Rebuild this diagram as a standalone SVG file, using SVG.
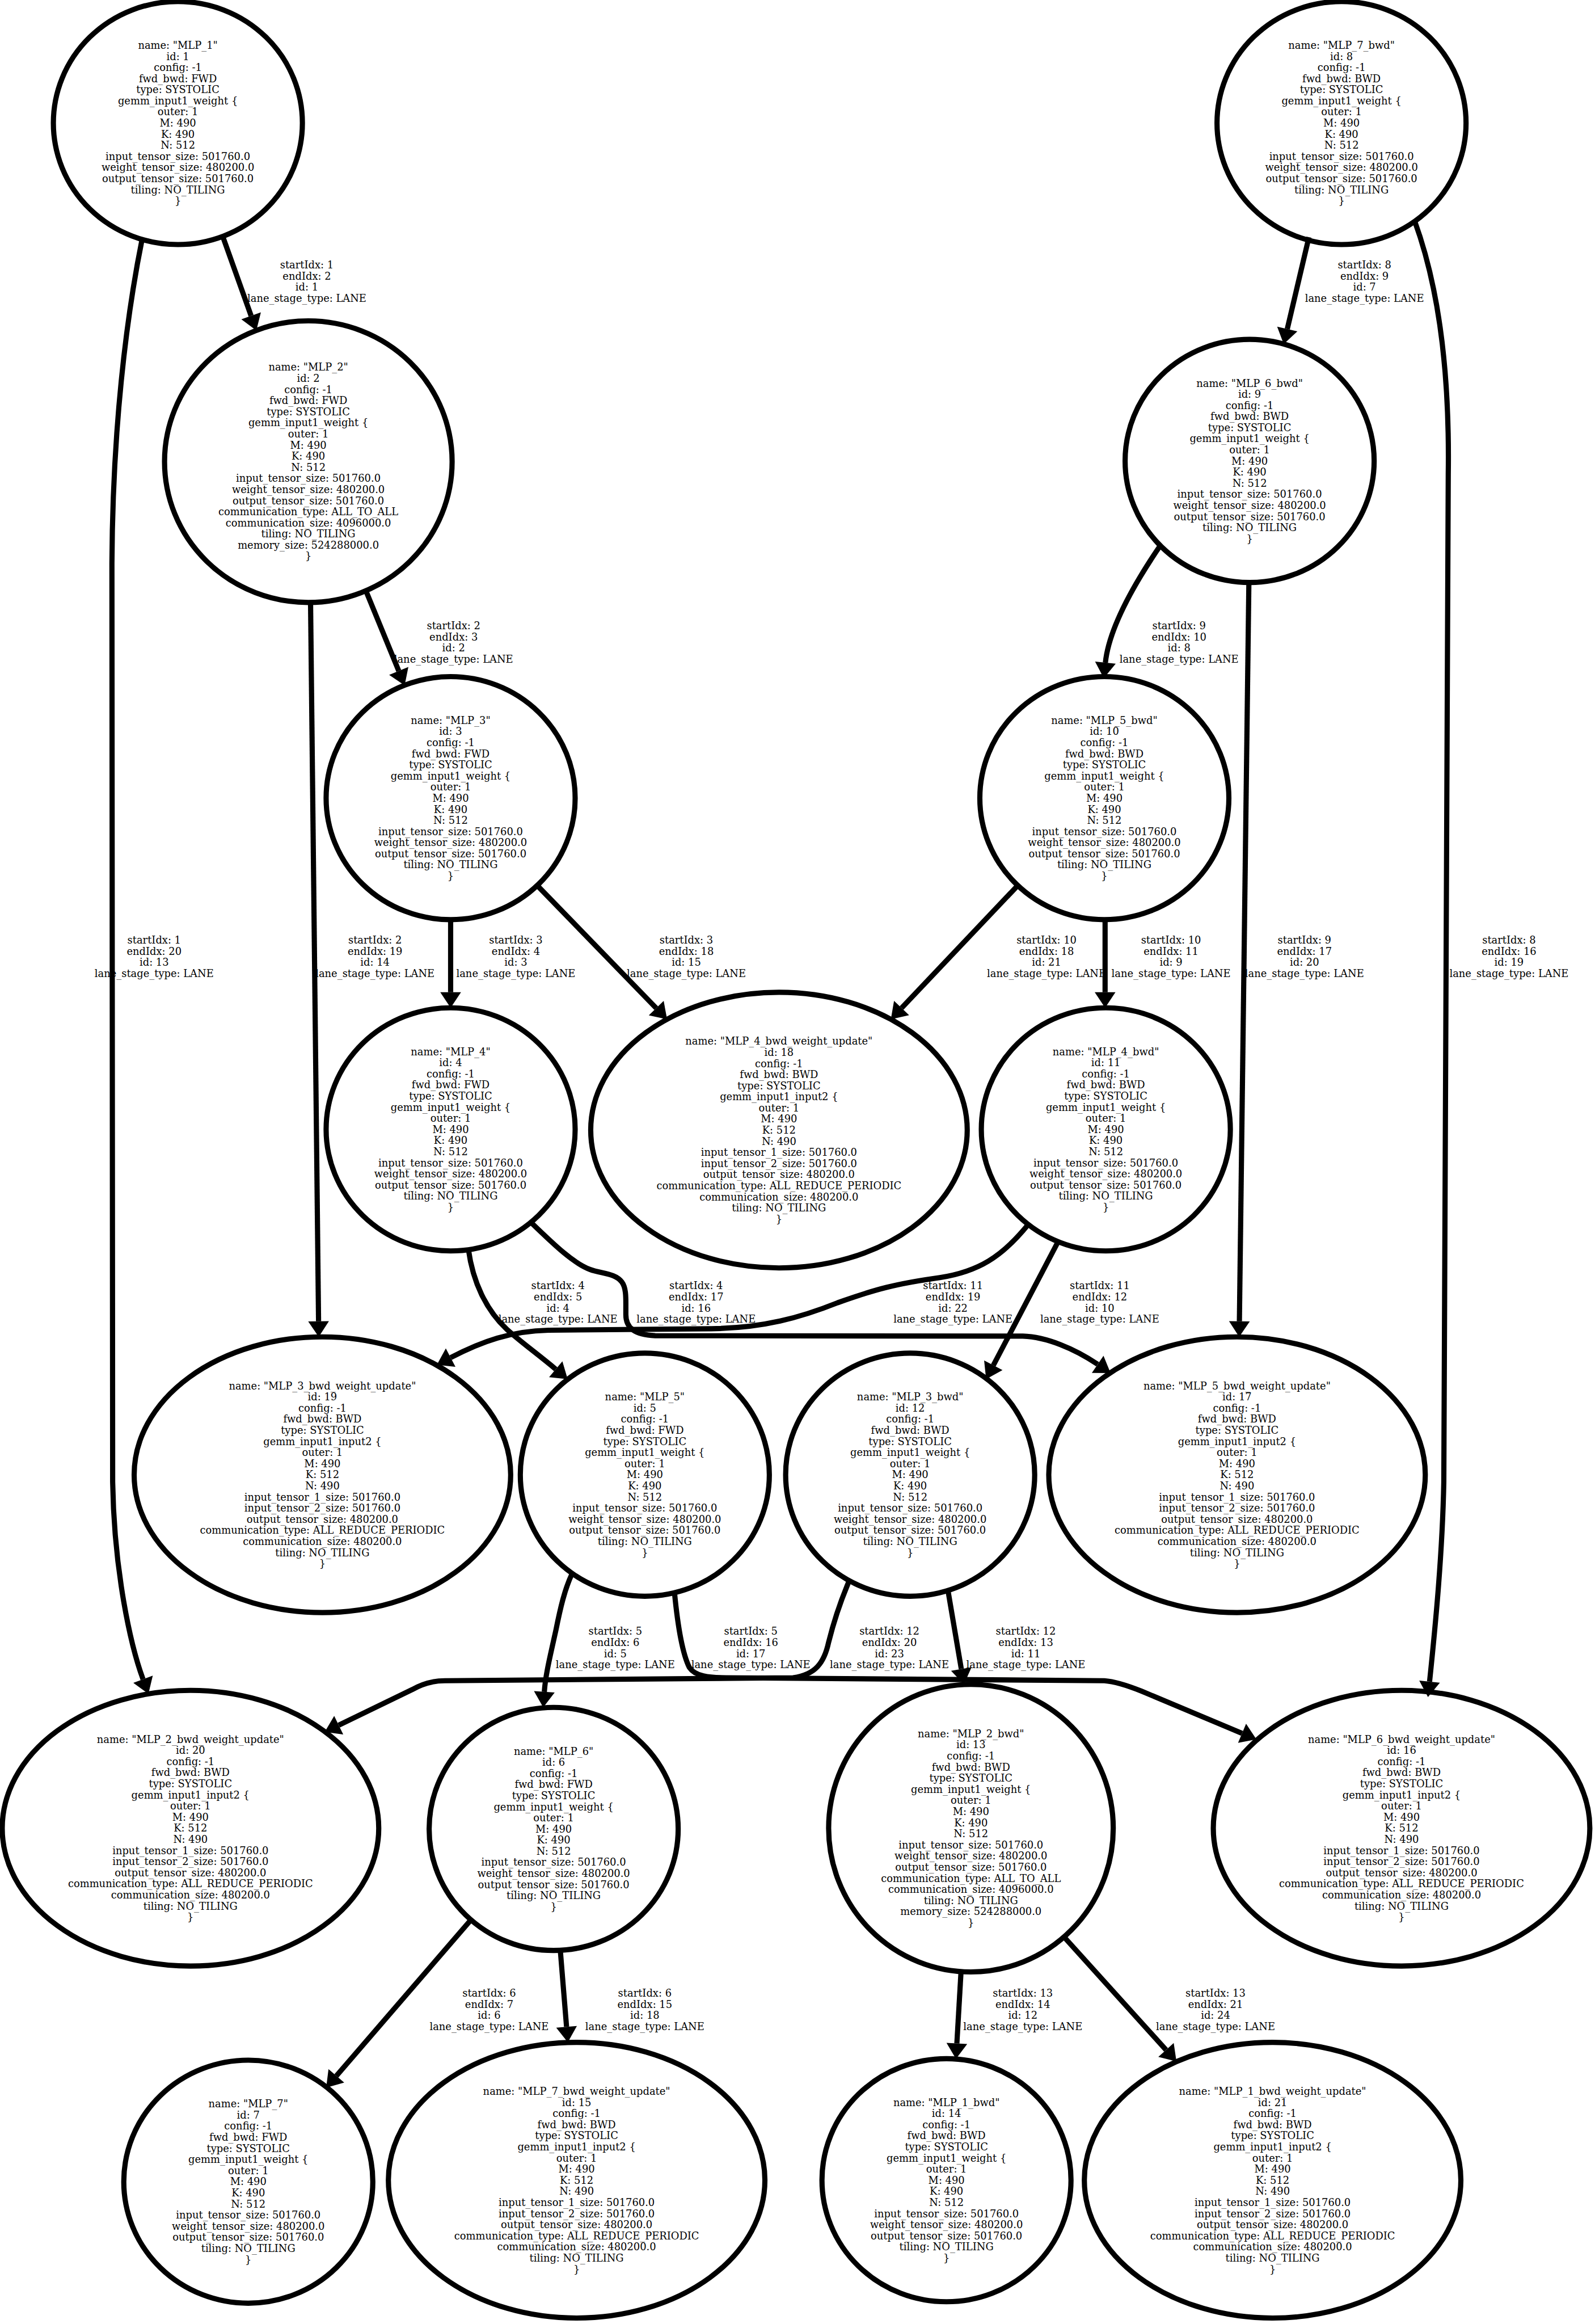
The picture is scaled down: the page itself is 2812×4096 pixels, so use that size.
<svg xmlns="http://www.w3.org/2000/svg" width="2812" height="4096" viewBox="0 0 2812 4096">
<style>
.node ellipse{fill:none;stroke:#000;stroke-width:3.5}
text{font-family:"DejaVu Serif","Liberation Serif",serif;font-size:6.85px;text-anchor:middle;fill:#000}
.edge path{fill:none;stroke:#000;stroke-width:3.5;marker-end:url(#ah)}
</style>
<defs>
<marker id="ah" markerUnits="userSpaceOnUse" viewBox="0 -7 10.5 14" refX="0" refY="0" markerWidth="10.5" markerHeight="14" orient="auto" overflow="visible"><path d="M0,-7 L10.5,0 L0,7 z" fill="#000"/></marker>
</defs>
<rect width="2812" height="4096" fill="#fff"/>
<g transform="scale(2.6134,2.6122)">
<g id="edges">
<g class="edge" id="e1"><path d="M150,158.8 L169.4,213.1"/><text x="207" y="181.15"><tspan x="207">startIdx: 1</tspan><tspan x="207" dy="7.5">endIdx: 2</tspan><tspan x="207" dy="7.5">id: 1</tspan><tspan x="207" dy="7.5">lane_stage_type: LANE</tspan></text></g>
<g class="edge" id="e13"><path d="M96,160.7 C85,215 76,290 75.5,380 L76,1000 C77,1060 88,1110 96.5,1133"/><text x="104" y="636.65"><tspan x="104">startIdx: 1</tspan><tspan x="104" dy="7.5">endIdx: 20</tspan><tspan x="104" dy="7.5">id: 13</tspan><tspan x="104" dy="7.5">lane_stage_type: LANE</tspan></text></g>
<g class="edge" id="e2"><path d="M247,399 L269,452.7"/><text x="306" y="424.65"><tspan x="306">startIdx: 2</tspan><tspan x="306" dy="7.5">endIdx: 3</tspan><tspan x="306" dy="7.5">id: 2</tspan><tspan x="306" dy="7.5">lane_stage_type: LANE</tspan></text></g>
<g class="edge" id="e14"><path d="M209.5,406.5 L214.9,891.5"/><text x="253" y="636.65"><tspan x="253">startIdx: 2</tspan><tspan x="253" dy="7.5">endIdx: 19</tspan><tspan x="253" dy="7.5">id: 14</tspan><tspan x="253" dy="7.5">lane_stage_type: LANE</tspan></text></g>
<g class="edge" id="e3"><path d="M304,620.5 L304,669.5"/><text x="348" y="636.65"><tspan x="348">startIdx: 3</tspan><tspan x="348" dy="7.5">endIdx: 4</tspan><tspan x="348" dy="7.5">id: 3</tspan><tspan x="348" dy="7.5">lane_stage_type: LANE</tspan></text></g>
<g class="edge" id="e15"><path d="M362,597 L442.7,680.2"/><text x="463" y="636.65"><tspan x="463">startIdx: 3</tspan><tspan x="463" dy="7.5">endIdx: 18</tspan><tspan x="463" dy="7.5">id: 15</tspan><tspan x="463" dy="7.5">lane_stage_type: LANE</tspan></text></g>
<g class="edge" id="e4"><path d="M316,843 C319,865 328,884 342,897 C352,906 362,913 374.9,923.8"/><text x="376.4" y="869.95"><tspan x="376.4">startIdx: 4</tspan><tspan x="376.4" dy="7.5">endIdx: 5</tspan><tspan x="376.4" dy="7.5">id: 4</tspan><tspan x="376.4" dy="7.5">lane_stage_type: LANE</tspan></text></g>
<g class="edge" id="e16"><path d="M357.8,824.4 C372,838 386,852 398,856.5 C406,859.5 415,859 419.5,865 C422.5,869 422.2,876 422.2,882 L422.2,887 C422.2,896 428,900.5 442,901.2 L690,901.5 C706,902 725,910 740.5,920.5"/><text x="469.6" y="869.95"><tspan x="469.6">startIdx: 4</tspan><tspan x="469.6" dy="7.5">endIdx: 17</tspan><tspan x="469.6" dy="7.5">id: 16</tspan><tspan x="469.6" dy="7.5">lane_stage_type: LANE</tspan></text></g>
<g class="edge" id="e5"><path d="M386,1061.6 C381,1072 378,1085 375,1100 C371,1118 368,1130 367.2,1141.5"/><text x="415.1" y="1103.05"><tspan x="415.1">startIdx: 5</tspan><tspan x="415.1" dy="7.5">endIdx: 6</tspan><tspan x="415.1" dy="7.5">id: 5</tspan><tspan x="415.1" dy="7.5">lane_stage_type: LANE</tspan></text></g>
<g class="edge" id="e17"><path d="M455,1074.4 C457,1095 460,1115 465,1125 C469,1131 478,1132 490,1132 L745,1134 C752,1134.5 760,1137 770,1141 L837.9,1169.5"/><text x="506.5" y="1103.05"><tspan x="506.5">startIdx: 5</tspan><tspan x="506.5" dy="7.5">endIdx: 16</tspan><tspan x="506.5" dy="7.5">id: 17</tspan><tspan x="506.5" dy="7.5">lane_stage_type: LANE</tspan></text></g>
<g class="edge" id="e6"><path d="M318,1295 L226.9,1400.6"/><text x="330" y="1347.15"><tspan x="330">startIdx: 6</tspan><tspan x="330" dy="7.5">endIdx: 7</tspan><tspan x="330" dy="7.5">id: 6</tspan><tspan x="330" dy="7.5">lane_stage_type: LANE</tspan></text></g>
<g class="edge" id="e18"><path d="M378,1316 L382.2,1367.5"/><text x="435" y="1347.15"><tspan x="435">startIdx: 6</tspan><tspan x="435" dy="7.5">endIdx: 15</tspan><tspan x="435" dy="7.5">id: 18</tspan><tspan x="435" dy="7.5">lane_stage_type: LANE</tspan></text></g>
<g class="edge" id="e7"><path d="M883,160 L868.4,222"/><text x="920.5" y="181.15"><tspan x="920.5">startIdx: 8</tspan><tspan x="920.5" dy="7.5">endIdx: 9</tspan><tspan x="920.5" dy="7.5">id: 7</tspan><tspan x="920.5" dy="7.5">lane_stage_type: LANE</tspan></text></g>
<g class="edge" id="e19"><path d="M954.3,149 C970,192 978,250 977,320 L974,1000 C973,1050 968,1100 964.4,1134.6"/><text x="1018" y="636.65"><tspan x="1018">startIdx: 8</tspan><tspan x="1018" dy="7.5">endIdx: 16</tspan><tspan x="1018" dy="7.5">id: 19</tspan><tspan x="1018" dy="7.5">lane_stage_type: LANE</tspan></text></g>
<g class="edge" id="e8"><path d="M783,367.7 C763,397 748,425 745.7,447.1"/><text x="795.4" y="424.65"><tspan x="795.4">startIdx: 9</tspan><tspan x="795.4" dy="7.5">endIdx: 10</tspan><tspan x="795.4" dy="7.5">id: 8</tspan><tspan x="795.4" dy="7.5">lane_stage_type: LANE</tspan></text></g>
<g class="edge" id="e20"><path d="M842.5,393 L836.1,891.5"/><text x="880" y="636.65"><tspan x="880">startIdx: 9</tspan><tspan x="880" dy="7.5">endIdx: 17</tspan><tspan x="880" dy="7.5">id: 20</tspan><tspan x="880" dy="7.5">lane_stage_type: LANE</tspan></text></g>
<g class="edge" id="e21"><path d="M687,597 L608.2,680.1"/><text x="706" y="636.65"><tspan x="706">startIdx: 10</tspan><tspan x="706" dy="7.5">endIdx: 18</tspan><tspan x="706" dy="7.5">id: 21</tspan><tspan x="706" dy="7.5">lane_stage_type: LANE</tspan></text></g>
<g class="edge" id="e9"><path d="M745.5,620.5 L745.5,669.5"/><text x="790" y="636.65"><tspan x="790">startIdx: 10</tspan><tspan x="790" dy="7.5">endIdx: 11</tspan><tspan x="790" dy="7.5">id: 9</tspan><tspan x="790" dy="7.5">lane_stage_type: LANE</tspan></text></g>
<g class="edge" id="e22"><path d="M693.8,826 C676,848 660,858 634,862 C605,866 590,870 565,879 C540,889 515,896 480,896.5 L370,897.5 C345,898 325,905 304,916"/><text x="642.9" y="869.95"><tspan x="642.9">startIdx: 11</tspan><tspan x="642.9" dy="7.5">endIdx: 19</tspan><tspan x="642.9" dy="7.5">id: 22</tspan><tspan x="642.9" dy="7.5">lane_stage_type: LANE</tspan></text></g>
<g class="edge" id="e10"><path d="M713.9,837.6 L670.1,921.2"/><text x="741.9" y="869.95"><tspan x="741.9">startIdx: 11</tspan><tspan x="741.9" dy="7.5">endIdx: 12</tspan><tspan x="741.9" dy="7.5">id: 10</tspan><tspan x="741.9" dy="7.5">lane_stage_type: LANE</tspan></text></g>
<g class="edge" id="e23"><path d="M573,1066.3 C568,1078 563,1092 559,1108 C556,1122 550,1130 535,1132 L300,1134 C292,1134 285,1136 278,1140 L228.5,1164"/><text x="600" y="1103.05"><tspan x="600">startIdx: 12</tspan><tspan x="600" dy="7.5">endIdx: 20</tspan><tspan x="600" dy="7.5">id: 23</tspan><tspan x="600" dy="7.5">lane_stage_type: LANE</tspan></text></g>
<g class="edge" id="e11"><path d="M639.5,1073 L648.5,1126.1"/><text x="692" y="1103.05"><tspan x="692">startIdx: 12</tspan><tspan x="692" dy="7.5">endIdx: 13</tspan><tspan x="692" dy="7.5">id: 11</tspan><tspan x="692" dy="7.5">lane_stage_type: LANE</tspan></text></g>
<g class="edge" id="e12"><path d="M648.3,1330.5 L645.5,1378.7"/><text x="690" y="1347.15"><tspan x="690">startIdx: 13</tspan><tspan x="690" dy="7.5">endIdx: 14</tspan><tspan x="690" dy="7.5">id: 12</tspan><tspan x="690" dy="7.5">lane_stage_type: LANE</tspan></text></g>
<g class="edge" id="e24"><path d="M717,1306 L786.6,1383.1"/><text x="820" y="1347.15"><tspan x="820">startIdx: 13</tspan><tspan x="820" dy="7.5">endIdx: 21</tspan><tspan x="820" dy="7.5">id: 24</tspan><tspan x="820" dy="7.5">lane_stage_type: LANE</tspan></text></g>
</g>
<g id="nodes">
<g class="node" id="MLP_1"><ellipse cx="120" cy="83" rx="84" ry="82"/><text x="120" y="32.9"><tspan x="120">name: "MLP_1"</tspan><tspan x="120" dy="7.5">id: 1</tspan><tspan x="120" dy="7.5">config: -1</tspan><tspan x="120" dy="7.5">fwd_bwd: FWD</tspan><tspan x="120" dy="7.5">type: SYSTOLIC</tspan><tspan x="120" dy="7.5">gemm_input1_weight {</tspan><tspan x="120" dy="7.5">outer: 1</tspan><tspan x="120" dy="7.5">M: 490</tspan><tspan x="120" dy="7.5">K: 490</tspan><tspan x="120" dy="7.5">N: 512</tspan><tspan x="120" dy="7.5">input_tensor_size: 501760.0</tspan><tspan x="120" dy="7.5">weight_tensor_size: 480200.0</tspan><tspan x="120" dy="7.5">output_tensor_size: 501760.0</tspan><tspan x="120" dy="7.5">tiling: NO_TILING</tspan><tspan x="120" dy="7.5">}</tspan></text></g>
<g class="node" id="MLP_7_bwd"><ellipse cx="905" cy="83" rx="84" ry="82"/><text x="905" y="32.9"><tspan x="905">name: "MLP_7_bwd"</tspan><tspan x="905" dy="7.5">id: 8</tspan><tspan x="905" dy="7.5">config: -1</tspan><tspan x="905" dy="7.5">fwd_bwd: BWD</tspan><tspan x="905" dy="7.5">type: SYSTOLIC</tspan><tspan x="905" dy="7.5">gemm_input1_weight {</tspan><tspan x="905" dy="7.5">outer: 1</tspan><tspan x="905" dy="7.5">M: 490</tspan><tspan x="905" dy="7.5">K: 490</tspan><tspan x="905" dy="7.5">N: 512</tspan><tspan x="905" dy="7.5">input_tensor_size: 501760.0</tspan><tspan x="905" dy="7.5">weight_tensor_size: 480200.0</tspan><tspan x="905" dy="7.5">output_tensor_size: 501760.0</tspan><tspan x="905" dy="7.5">tiling: NO_TILING</tspan><tspan x="905" dy="7.5">}</tspan></text></g>
<g class="node" id="MLP_2"><ellipse cx="208" cy="311.5" rx="97" ry="95"/><text x="208" y="250.15"><tspan x="208">name: "MLP_2"</tspan><tspan x="208" dy="7.5">id: 2</tspan><tspan x="208" dy="7.5">config: -1</tspan><tspan x="208" dy="7.5">fwd_bwd: FWD</tspan><tspan x="208" dy="7.5">type: SYSTOLIC</tspan><tspan x="208" dy="7.5">gemm_input1_weight {</tspan><tspan x="208" dy="7.5">outer: 1</tspan><tspan x="208" dy="7.5">M: 490</tspan><tspan x="208" dy="7.5">K: 490</tspan><tspan x="208" dy="7.5">N: 512</tspan><tspan x="208" dy="7.5">input_tensor_size: 501760.0</tspan><tspan x="208" dy="7.5">weight_tensor_size: 480200.0</tspan><tspan x="208" dy="7.5">output_tensor_size: 501760.0</tspan><tspan x="208" dy="7.5">communication_type: ALL_TO_ALL</tspan><tspan x="208" dy="7.5">communication_size: 4096000.0</tspan><tspan x="208" dy="7.5">tiling: NO_TILING</tspan><tspan x="208" dy="7.5">memory_size: 524288000.0</tspan><tspan x="208" dy="7.5">}</tspan></text></g>
<g class="node" id="MLP_6_bwd"><ellipse cx="843" cy="311" rx="84" ry="82"/><text x="843" y="260.9"><tspan x="843">name: "MLP_6_bwd"</tspan><tspan x="843" dy="7.5">id: 9</tspan><tspan x="843" dy="7.5">config: -1</tspan><tspan x="843" dy="7.5">fwd_bwd: BWD</tspan><tspan x="843" dy="7.5">type: SYSTOLIC</tspan><tspan x="843" dy="7.5">gemm_input1_weight {</tspan><tspan x="843" dy="7.5">outer: 1</tspan><tspan x="843" dy="7.5">M: 490</tspan><tspan x="843" dy="7.5">K: 490</tspan><tspan x="843" dy="7.5">N: 512</tspan><tspan x="843" dy="7.5">input_tensor_size: 501760.0</tspan><tspan x="843" dy="7.5">weight_tensor_size: 480200.0</tspan><tspan x="843" dy="7.5">output_tensor_size: 501760.0</tspan><tspan x="843" dy="7.5">tiling: NO_TILING</tspan><tspan x="843" dy="7.5">}</tspan></text></g>
<g class="node" id="MLP_3"><ellipse cx="304" cy="538.5" rx="84" ry="82"/><text x="304" y="488.4"><tspan x="304">name: "MLP_3"</tspan><tspan x="304" dy="7.5">id: 3</tspan><tspan x="304" dy="7.5">config: -1</tspan><tspan x="304" dy="7.5">fwd_bwd: FWD</tspan><tspan x="304" dy="7.5">type: SYSTOLIC</tspan><tspan x="304" dy="7.5">gemm_input1_weight {</tspan><tspan x="304" dy="7.5">outer: 1</tspan><tspan x="304" dy="7.5">M: 490</tspan><tspan x="304" dy="7.5">K: 490</tspan><tspan x="304" dy="7.5">N: 512</tspan><tspan x="304" dy="7.5">input_tensor_size: 501760.0</tspan><tspan x="304" dy="7.5">weight_tensor_size: 480200.0</tspan><tspan x="304" dy="7.5">output_tensor_size: 501760.0</tspan><tspan x="304" dy="7.5">tiling: NO_TILING</tspan><tspan x="304" dy="7.5">}</tspan></text></g>
<g class="node" id="MLP_5_bwd"><ellipse cx="745" cy="538.5" rx="84" ry="82"/><text x="745" y="488.4"><tspan x="745">name: "MLP_5_bwd"</tspan><tspan x="745" dy="7.5">id: 10</tspan><tspan x="745" dy="7.5">config: -1</tspan><tspan x="745" dy="7.5">fwd_bwd: BWD</tspan><tspan x="745" dy="7.5">type: SYSTOLIC</tspan><tspan x="745" dy="7.5">gemm_input1_weight {</tspan><tspan x="745" dy="7.5">outer: 1</tspan><tspan x="745" dy="7.5">M: 490</tspan><tspan x="745" dy="7.5">K: 490</tspan><tspan x="745" dy="7.5">N: 512</tspan><tspan x="745" dy="7.5">input_tensor_size: 501760.0</tspan><tspan x="745" dy="7.5">weight_tensor_size: 480200.0</tspan><tspan x="745" dy="7.5">output_tensor_size: 501760.0</tspan><tspan x="745" dy="7.5">tiling: NO_TILING</tspan><tspan x="745" dy="7.5">}</tspan></text></g>
<g class="node" id="MLP_4"><ellipse cx="304" cy="762" rx="84" ry="82"/><text x="304" y="711.9"><tspan x="304">name: "MLP_4"</tspan><tspan x="304" dy="7.5">id: 4</tspan><tspan x="304" dy="7.5">config: -1</tspan><tspan x="304" dy="7.5">fwd_bwd: FWD</tspan><tspan x="304" dy="7.5">type: SYSTOLIC</tspan><tspan x="304" dy="7.5">gemm_input1_weight {</tspan><tspan x="304" dy="7.5">outer: 1</tspan><tspan x="304" dy="7.5">M: 490</tspan><tspan x="304" dy="7.5">K: 490</tspan><tspan x="304" dy="7.5">N: 512</tspan><tspan x="304" dy="7.5">input_tensor_size: 501760.0</tspan><tspan x="304" dy="7.5">weight_tensor_size: 480200.0</tspan><tspan x="304" dy="7.5">output_tensor_size: 501760.0</tspan><tspan x="304" dy="7.5">tiling: NO_TILING</tspan><tspan x="304" dy="7.5">}</tspan></text></g>
<g class="node" id="MLP_4_bwd_weight_update"><ellipse cx="525.5" cy="762.5" rx="127" ry="93"/><text x="525.5" y="704.9"><tspan x="525.5">name: "MLP_4_bwd_weight_update"</tspan><tspan x="525.5" dy="7.5">id: 18</tspan><tspan x="525.5" dy="7.5">config: -1</tspan><tspan x="525.5" dy="7.5">fwd_bwd: BWD</tspan><tspan x="525.5" dy="7.5">type: SYSTOLIC</tspan><tspan x="525.5" dy="7.5">gemm_input1_input2 {</tspan><tspan x="525.5" dy="7.5">outer: 1</tspan><tspan x="525.5" dy="7.5">M: 490</tspan><tspan x="525.5" dy="7.5">K: 512</tspan><tspan x="525.5" dy="7.5">N: 490</tspan><tspan x="525.5" dy="7.5">input_tensor_1_size: 501760.0</tspan><tspan x="525.5" dy="7.5">input_tensor_2_size: 501760.0</tspan><tspan x="525.5" dy="7.5">output_tensor_size: 480200.0</tspan><tspan x="525.5" dy="7.5">communication_type: ALL_REDUCE_PERIODIC</tspan><tspan x="525.5" dy="7.5">communication_size: 480200.0</tspan><tspan x="525.5" dy="7.5">tiling: NO_TILING</tspan><tspan x="525.5" dy="7.5">}</tspan></text></g>
<g class="node" id="MLP_4_bwd"><ellipse cx="746" cy="762" rx="84" ry="82"/><text x="746" y="711.9"><tspan x="746">name: "MLP_4_bwd"</tspan><tspan x="746" dy="7.5">id: 11</tspan><tspan x="746" dy="7.5">config: -1</tspan><tspan x="746" dy="7.5">fwd_bwd: BWD</tspan><tspan x="746" dy="7.5">type: SYSTOLIC</tspan><tspan x="746" dy="7.5">gemm_input1_weight {</tspan><tspan x="746" dy="7.5">outer: 1</tspan><tspan x="746" dy="7.5">M: 490</tspan><tspan x="746" dy="7.5">K: 490</tspan><tspan x="746" dy="7.5">N: 512</tspan><tspan x="746" dy="7.5">input_tensor_size: 501760.0</tspan><tspan x="746" dy="7.5">weight_tensor_size: 480200.0</tspan><tspan x="746" dy="7.5">output_tensor_size: 501760.0</tspan><tspan x="746" dy="7.5">tiling: NO_TILING</tspan><tspan x="746" dy="7.5">}</tspan></text></g>
<g class="node" id="MLP_3_bwd_weight_update"><ellipse cx="217.5" cy="995" rx="127" ry="93"/><text x="217.5" y="937.4"><tspan x="217.5">name: "MLP_3_bwd_weight_update"</tspan><tspan x="217.5" dy="7.5">id: 19</tspan><tspan x="217.5" dy="7.5">config: -1</tspan><tspan x="217.5" dy="7.5">fwd_bwd: BWD</tspan><tspan x="217.5" dy="7.5">type: SYSTOLIC</tspan><tspan x="217.5" dy="7.5">gemm_input1_input2 {</tspan><tspan x="217.5" dy="7.5">outer: 1</tspan><tspan x="217.5" dy="7.5">M: 490</tspan><tspan x="217.5" dy="7.5">K: 512</tspan><tspan x="217.5" dy="7.5">N: 490</tspan><tspan x="217.5" dy="7.5">input_tensor_1_size: 501760.0</tspan><tspan x="217.5" dy="7.5">input_tensor_2_size: 501760.0</tspan><tspan x="217.5" dy="7.5">output_tensor_size: 480200.0</tspan><tspan x="217.5" dy="7.5">communication_type: ALL_REDUCE_PERIODIC</tspan><tspan x="217.5" dy="7.5">communication_size: 480200.0</tspan><tspan x="217.5" dy="7.5">tiling: NO_TILING</tspan><tspan x="217.5" dy="7.5">}</tspan></text></g>
<g class="node" id="MLP_5"><ellipse cx="435" cy="995" rx="84" ry="82"/><text x="435" y="944.9"><tspan x="435">name: "MLP_5"</tspan><tspan x="435" dy="7.5">id: 5</tspan><tspan x="435" dy="7.5">config: -1</tspan><tspan x="435" dy="7.5">fwd_bwd: FWD</tspan><tspan x="435" dy="7.5">type: SYSTOLIC</tspan><tspan x="435" dy="7.5">gemm_input1_weight {</tspan><tspan x="435" dy="7.5">outer: 1</tspan><tspan x="435" dy="7.5">M: 490</tspan><tspan x="435" dy="7.5">K: 490</tspan><tspan x="435" dy="7.5">N: 512</tspan><tspan x="435" dy="7.5">input_tensor_size: 501760.0</tspan><tspan x="435" dy="7.5">weight_tensor_size: 480200.0</tspan><tspan x="435" dy="7.5">output_tensor_size: 501760.0</tspan><tspan x="435" dy="7.5">tiling: NO_TILING</tspan><tspan x="435" dy="7.5">}</tspan></text></g>
<g class="node" id="MLP_3_bwd"><ellipse cx="614" cy="995" rx="84" ry="82"/><text x="614" y="944.9"><tspan x="614">name: "MLP_3_bwd"</tspan><tspan x="614" dy="7.5">id: 12</tspan><tspan x="614" dy="7.5">config: -1</tspan><tspan x="614" dy="7.5">fwd_bwd: BWD</tspan><tspan x="614" dy="7.5">type: SYSTOLIC</tspan><tspan x="614" dy="7.5">gemm_input1_weight {</tspan><tspan x="614" dy="7.5">outer: 1</tspan><tspan x="614" dy="7.5">M: 490</tspan><tspan x="614" dy="7.5">K: 490</tspan><tspan x="614" dy="7.5">N: 512</tspan><tspan x="614" dy="7.5">input_tensor_size: 501760.0</tspan><tspan x="614" dy="7.5">weight_tensor_size: 480200.0</tspan><tspan x="614" dy="7.5">output_tensor_size: 501760.0</tspan><tspan x="614" dy="7.5">tiling: NO_TILING</tspan><tspan x="614" dy="7.5">}</tspan></text></g>
<g class="node" id="MLP_5_bwd_weight_update"><ellipse cx="834.5" cy="995" rx="127" ry="93"/><text x="834.5" y="937.4"><tspan x="834.5">name: "MLP_5_bwd_weight_update"</tspan><tspan x="834.5" dy="7.5">id: 17</tspan><tspan x="834.5" dy="7.5">config: -1</tspan><tspan x="834.5" dy="7.5">fwd_bwd: BWD</tspan><tspan x="834.5" dy="7.5">type: SYSTOLIC</tspan><tspan x="834.5" dy="7.5">gemm_input1_input2 {</tspan><tspan x="834.5" dy="7.5">outer: 1</tspan><tspan x="834.5" dy="7.5">M: 490</tspan><tspan x="834.5" dy="7.5">K: 512</tspan><tspan x="834.5" dy="7.5">N: 490</tspan><tspan x="834.5" dy="7.5">input_tensor_1_size: 501760.0</tspan><tspan x="834.5" dy="7.5">input_tensor_2_size: 501760.0</tspan><tspan x="834.5" dy="7.5">output_tensor_size: 480200.0</tspan><tspan x="834.5" dy="7.5">communication_type: ALL_REDUCE_PERIODIC</tspan><tspan x="834.5" dy="7.5">communication_size: 480200.0</tspan><tspan x="834.5" dy="7.5">tiling: NO_TILING</tspan><tspan x="834.5" dy="7.5">}</tspan></text></g>
<g class="node" id="MLP_2_bwd_weight_update"><ellipse cx="128.5" cy="1233.5" rx="127" ry="93"/><text x="128.5" y="1175.9"><tspan x="128.5">name: "MLP_2_bwd_weight_update"</tspan><tspan x="128.5" dy="7.5">id: 20</tspan><tspan x="128.5" dy="7.5">config: -1</tspan><tspan x="128.5" dy="7.5">fwd_bwd: BWD</tspan><tspan x="128.5" dy="7.5">type: SYSTOLIC</tspan><tspan x="128.5" dy="7.5">gemm_input1_input2 {</tspan><tspan x="128.5" dy="7.5">outer: 1</tspan><tspan x="128.5" dy="7.5">M: 490</tspan><tspan x="128.5" dy="7.5">K: 512</tspan><tspan x="128.5" dy="7.5">N: 490</tspan><tspan x="128.5" dy="7.5">input_tensor_1_size: 501760.0</tspan><tspan x="128.5" dy="7.5">input_tensor_2_size: 501760.0</tspan><tspan x="128.5" dy="7.5">output_tensor_size: 480200.0</tspan><tspan x="128.5" dy="7.5">communication_type: ALL_REDUCE_PERIODIC</tspan><tspan x="128.5" dy="7.5">communication_size: 480200.0</tspan><tspan x="128.5" dy="7.5">tiling: NO_TILING</tspan><tspan x="128.5" dy="7.5">}</tspan></text></g>
<g class="node" id="MLP_6"><ellipse cx="373.5" cy="1234" rx="84" ry="82"/><text x="373.5" y="1183.9"><tspan x="373.5">name: "MLP_6"</tspan><tspan x="373.5" dy="7.5">id: 6</tspan><tspan x="373.5" dy="7.5">config: -1</tspan><tspan x="373.5" dy="7.5">fwd_bwd: FWD</tspan><tspan x="373.5" dy="7.5">type: SYSTOLIC</tspan><tspan x="373.5" dy="7.5">gemm_input1_weight {</tspan><tspan x="373.5" dy="7.5">outer: 1</tspan><tspan x="373.5" dy="7.5">M: 490</tspan><tspan x="373.5" dy="7.5">K: 490</tspan><tspan x="373.5" dy="7.5">N: 512</tspan><tspan x="373.5" dy="7.5">input_tensor_size: 501760.0</tspan><tspan x="373.5" dy="7.5">weight_tensor_size: 480200.0</tspan><tspan x="373.5" dy="7.5">output_tensor_size: 501760.0</tspan><tspan x="373.5" dy="7.5">tiling: NO_TILING</tspan><tspan x="373.5" dy="7.5">}</tspan></text></g>
<g class="node" id="MLP_2_bwd"><ellipse cx="655" cy="1233.5" rx="96" ry="97"/><text x="655" y="1172.15"><tspan x="655">name: "MLP_2_bwd"</tspan><tspan x="655" dy="7.5">id: 13</tspan><tspan x="655" dy="7.5">config: -1</tspan><tspan x="655" dy="7.5">fwd_bwd: BWD</tspan><tspan x="655" dy="7.5">type: SYSTOLIC</tspan><tspan x="655" dy="7.5">gemm_input1_weight {</tspan><tspan x="655" dy="7.5">outer: 1</tspan><tspan x="655" dy="7.5">M: 490</tspan><tspan x="655" dy="7.5">K: 490</tspan><tspan x="655" dy="7.5">N: 512</tspan><tspan x="655" dy="7.5">input_tensor_size: 501760.0</tspan><tspan x="655" dy="7.5">weight_tensor_size: 480200.0</tspan><tspan x="655" dy="7.5">output_tensor_size: 501760.0</tspan><tspan x="655" dy="7.5">communication_type: ALL_TO_ALL</tspan><tspan x="655" dy="7.5">communication_size: 4096000.0</tspan><tspan x="655" dy="7.5">tiling: NO_TILING</tspan><tspan x="655" dy="7.5">memory_size: 524288000.0</tspan><tspan x="655" dy="7.5">}</tspan></text></g>
<g class="node" id="MLP_6_bwd_weight_update"><ellipse cx="945.5" cy="1233.5" rx="127" ry="93"/><text x="945.5" y="1175.9"><tspan x="945.5">name: "MLP_6_bwd_weight_update"</tspan><tspan x="945.5" dy="7.5">id: 16</tspan><tspan x="945.5" dy="7.5">config: -1</tspan><tspan x="945.5" dy="7.5">fwd_bwd: BWD</tspan><tspan x="945.5" dy="7.5">type: SYSTOLIC</tspan><tspan x="945.5" dy="7.5">gemm_input1_input2 {</tspan><tspan x="945.5" dy="7.5">outer: 1</tspan><tspan x="945.5" dy="7.5">M: 490</tspan><tspan x="945.5" dy="7.5">K: 512</tspan><tspan x="945.5" dy="7.5">N: 490</tspan><tspan x="945.5" dy="7.5">input_tensor_1_size: 501760.0</tspan><tspan x="945.5" dy="7.5">input_tensor_2_size: 501760.0</tspan><tspan x="945.5" dy="7.5">output_tensor_size: 480200.0</tspan><tspan x="945.5" dy="7.5">communication_type: ALL_REDUCE_PERIODIC</tspan><tspan x="945.5" dy="7.5">communication_size: 480200.0</tspan><tspan x="945.5" dy="7.5">tiling: NO_TILING</tspan><tspan x="945.5" dy="7.5">}</tspan></text></g>
<g class="node" id="MLP_7"><ellipse cx="167.5" cy="1472" rx="84" ry="82"/><text x="167.5" y="1421.9"><tspan x="167.5">name: "MLP_7"</tspan><tspan x="167.5" dy="7.5">id: 7</tspan><tspan x="167.5" dy="7.5">config: -1</tspan><tspan x="167.5" dy="7.5">fwd_bwd: FWD</tspan><tspan x="167.5" dy="7.5">type: SYSTOLIC</tspan><tspan x="167.5" dy="7.5">gemm_input1_weight {</tspan><tspan x="167.5" dy="7.5">outer: 1</tspan><tspan x="167.5" dy="7.5">M: 490</tspan><tspan x="167.5" dy="7.5">K: 490</tspan><tspan x="167.5" dy="7.5">N: 512</tspan><tspan x="167.5" dy="7.5">input_tensor_size: 501760.0</tspan><tspan x="167.5" dy="7.5">weight_tensor_size: 480200.0</tspan><tspan x="167.5" dy="7.5">output_tensor_size: 501760.0</tspan><tspan x="167.5" dy="7.5">tiling: NO_TILING</tspan><tspan x="167.5" dy="7.5">}</tspan></text></g>
<g class="node" id="MLP_7_bwd_weight_update"><ellipse cx="389" cy="1471" rx="127" ry="93"/><text x="389" y="1413.4"><tspan x="389">name: "MLP_7_bwd_weight_update"</tspan><tspan x="389" dy="7.5">id: 15</tspan><tspan x="389" dy="7.5">config: -1</tspan><tspan x="389" dy="7.5">fwd_bwd: BWD</tspan><tspan x="389" dy="7.5">type: SYSTOLIC</tspan><tspan x="389" dy="7.5">gemm_input1_input2 {</tspan><tspan x="389" dy="7.5">outer: 1</tspan><tspan x="389" dy="7.5">M: 490</tspan><tspan x="389" dy="7.5">K: 512</tspan><tspan x="389" dy="7.5">N: 490</tspan><tspan x="389" dy="7.5">input_tensor_1_size: 501760.0</tspan><tspan x="389" dy="7.5">input_tensor_2_size: 501760.0</tspan><tspan x="389" dy="7.5">output_tensor_size: 480200.0</tspan><tspan x="389" dy="7.5">communication_type: ALL_REDUCE_PERIODIC</tspan><tspan x="389" dy="7.5">communication_size: 480200.0</tspan><tspan x="389" dy="7.5">tiling: NO_TILING</tspan><tspan x="389" dy="7.5">}</tspan></text></g>
<g class="node" id="MLP_1_bwd"><ellipse cx="638.5" cy="1471" rx="84" ry="82"/><text x="638.5" y="1420.9"><tspan x="638.5">name: "MLP_1_bwd"</tspan><tspan x="638.5" dy="7.5">id: 14</tspan><tspan x="638.5" dy="7.5">config: -1</tspan><tspan x="638.5" dy="7.5">fwd_bwd: BWD</tspan><tspan x="638.5" dy="7.5">type: SYSTOLIC</tspan><tspan x="638.5" dy="7.5">gemm_input1_weight {</tspan><tspan x="638.5" dy="7.5">outer: 1</tspan><tspan x="638.5" dy="7.5">M: 490</tspan><tspan x="638.5" dy="7.5">K: 490</tspan><tspan x="638.5" dy="7.5">N: 512</tspan><tspan x="638.5" dy="7.5">input_tensor_size: 501760.0</tspan><tspan x="638.5" dy="7.5">weight_tensor_size: 480200.0</tspan><tspan x="638.5" dy="7.5">output_tensor_size: 501760.0</tspan><tspan x="638.5" dy="7.5">tiling: NO_TILING</tspan><tspan x="638.5" dy="7.5">}</tspan></text></g>
<g class="node" id="MLP_1_bwd_weight_update"><ellipse cx="858.5" cy="1471" rx="127" ry="93"/><text x="858.5" y="1413.4"><tspan x="858.5">name: "MLP_1_bwd_weight_update"</tspan><tspan x="858.5" dy="7.5">id: 21</tspan><tspan x="858.5" dy="7.5">config: -1</tspan><tspan x="858.5" dy="7.5">fwd_bwd: BWD</tspan><tspan x="858.5" dy="7.5">type: SYSTOLIC</tspan><tspan x="858.5" dy="7.5">gemm_input1_input2 {</tspan><tspan x="858.5" dy="7.5">outer: 1</tspan><tspan x="858.5" dy="7.5">M: 490</tspan><tspan x="858.5" dy="7.5">K: 512</tspan><tspan x="858.5" dy="7.5">N: 490</tspan><tspan x="858.5" dy="7.5">input_tensor_1_size: 501760.0</tspan><tspan x="858.5" dy="7.5">input_tensor_2_size: 501760.0</tspan><tspan x="858.5" dy="7.5">output_tensor_size: 480200.0</tspan><tspan x="858.5" dy="7.5">communication_type: ALL_REDUCE_PERIODIC</tspan><tspan x="858.5" dy="7.5">communication_size: 480200.0</tspan><tspan x="858.5" dy="7.5">tiling: NO_TILING</tspan><tspan x="858.5" dy="7.5">}</tspan></text></g>
</g>
</g>
</svg>
